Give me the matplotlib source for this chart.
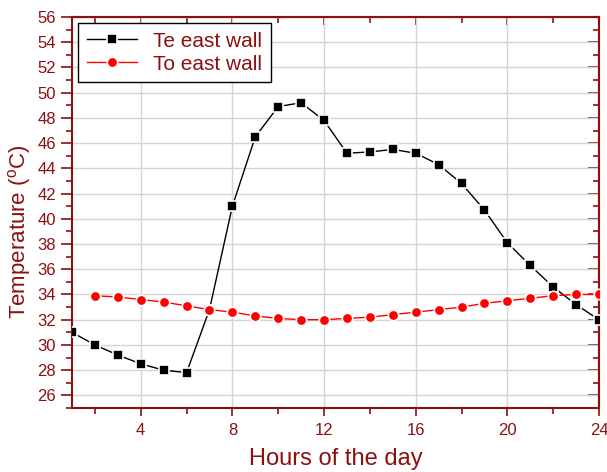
import numpy as np
import matplotlib
matplotlib.use("Agg")
import matplotlib.pyplot as plt
from matplotlib.ticker import MultipleLocator

plt.rcParams['font.family'] = ['Liberation Sans', 'DejaVu Sans']
plt.rcParams['mathtext.default'] = 'regular'

dark_red = '#8b1010'

hours_te = list(range(1, 25))
te_east = [31.0, 30.0, 29.2, 28.5, 28.0, 27.8, 32.8, 41.0, 46.5, 48.9, 49.2, 47.8,
           45.2, 45.3, 45.5, 45.2, 44.3, 42.8, 40.7, 38.1, 36.3, 34.6, 33.2, 32.0]
hours_to = list(range(2, 25))
to_east = [33.9, 33.8, 33.6, 33.4, 33.1, 32.8, 32.6, 32.3, 32.1, 32.0, 32.0,
           32.1, 32.2, 32.4, 32.6, 32.8, 33.0, 33.3, 33.5, 33.7, 33.9, 34.0, 34.0]

fig = plt.figure(figsize=(6.07, 4.72), dpi=100)
ax = fig.add_axes([0.1186, 0.1356, 0.8682, 0.8284])

ax.plot(hours_te, te_east, color='black', lw=1, marker='s', ms=6.5,
        mfc='black', mec='white', mew=1.2, label='Te east wall', zorder=3)
ax.plot(hours_to, to_east, color='red', lw=1, marker='o', ms=7.5,
        mfc='red', mec='white', mew=1.2, label='To east wall', zorder=3)

ax.set_xlim(1, 24)
ax.set_ylim(25, 56)
ax.xaxis.set_major_locator(MultipleLocator(4))
ax.xaxis.set_minor_locator(MultipleLocator(2))
ax.yaxis.set_major_locator(MultipleLocator(2))
ax.yaxis.set_minor_locator(MultipleLocator(1))
ax.grid(True, which='major', color='#d4d4d4', lw=1)
ax.set_axisbelow(True)

for s in ax.spines.values():
    s.set_color(dark_red)
    s.set_linewidth(1.5)

ax.tick_params(axis='both', which='both', direction='out', colors=dark_red,
               labelsize=12, width=1.2)
ax.tick_params(axis='x', which='major', length=6, pad=5)
ax.tick_params(axis='x', which='minor', length=4)
ax.tick_params(axis='y', which='major', length=8)
ax.tick_params(axis='y', which='minor', length=4)

# top and right ticks pointing inward
top = ax.secondary_xaxis('top')
top.xaxis.set_major_locator(MultipleLocator(4))
top.xaxis.set_minor_locator(MultipleLocator(2))
top.tick_params(which='both', direction='in', colors=dark_red, labeltop=False, width=1.2)
top.tick_params(which='major', length=6)
top.tick_params(which='minor', length=4)
top.spines['top'].set_color(dark_red)
top.spines['top'].set_linewidth(1.5)

right = ax.secondary_yaxis('right')
right.yaxis.set_major_locator(MultipleLocator(2))
right.yaxis.set_minor_locator(MultipleLocator(1))
right.tick_params(which='both', direction='in', colors=dark_red, labelright=False, width=1.2)
right.tick_params(which='major', length=8)
right.tick_params(which='minor', length=4)
right.spines['right'].set_color(dark_red)
right.spines['right'].set_linewidth(1.5)

ax.set_xlabel('Hours of the day', color=dark_red, fontsize=17)
ax.xaxis.set_label_coords(0.5, -0.102)
ax.set_ylabel('Temperature ($^{o}$C)', color=dark_red, fontsize=16)
ax.yaxis.set_label_coords(-0.074, 0.45)

leg = ax.legend(loc='upper left', fontsize=15, frameon=True, fancybox=False,
                edgecolor='black', framealpha=1, handlelength=2.4,
                borderaxespad=0.3, labelspacing=0.2)
leg.get_frame().set_linewidth(1)
for t in leg.get_texts():
    t.set_color(dark_red)

fig.savefig('out.png', dpi=100)
